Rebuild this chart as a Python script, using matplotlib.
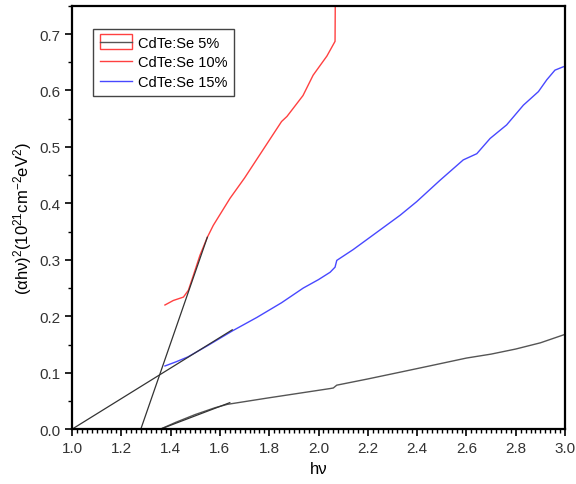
import matplotlib
matplotlib.use('Agg')
import matplotlib.pyplot as plt
from matplotlib.patches import Rectangle
from matplotlib.lines import Line2D
from matplotlib.ticker import MultipleLocator

plt.rcParams['font.family'] = ['Liberation Sans', 'DejaVu Sans']
plt.rcParams['mathtext.fontset'] = 'custom'
plt.rcParams['mathtext.rm'] = 'Liberation Sans'
plt.rcParams['mathtext.it'] = 'Liberation Sans:italic'

# CdTe:Se 5%
hv_5 = [1.358, 1.42, 1.50, 1.58, 1.63, 1.79, 2.047, 2.06, 2.074, 2.20, 2.331, 2.45, 2.60, 2.70, 2.80, 2.90, 3.0]
y_5 = [0.0, 0.012, 0.026, 0.038, 0.044, 0.055, 0.072, 0.073, 0.078, 0.089, 0.101, 0.112, 0.126, 0.133, 0.142, 0.153, 0.168]

# CdTe:Se 10%
hv_10 = [1.377, 1.411, 1.452, 1.472, 1.492, 1.519, 1.549, 1.573, 1.641, 1.70, 1.76, 1.82, 1.85, 1.872, 1.937, 1.978, 2.034, 2.067, 2.068]
y_10 = [0.220, 0.228, 0.234, 0.246, 0.272, 0.308, 0.340, 0.361, 0.409, 0.445, 0.485, 0.525, 0.545, 0.554, 0.591, 0.627, 0.661, 0.687, 0.76]

# CdTe:Se 15%
hv_15 = [1.377, 1.42, 1.47, 1.55, 1.65, 1.75, 1.85, 1.938, 2.0, 2.047, 2.067, 2.074, 2.14, 2.209, 2.331, 2.398, 2.493,
         2.587, 2.642, 2.696, 2.763, 2.831, 2.892, 2.926, 2.959, 2.993]
y_15 = [0.112, 0.119, 0.128, 0.148, 0.174, 0.198, 0.224, 0.250, 0.265, 0.278, 0.287, 0.299, 0.318, 0.340, 0.379, 0.403, 0.441,
        0.477, 0.488, 0.515, 0.539, 0.574, 0.598, 0.619, 0.636, 0.642]

# linear fits (Tauc extrapolation lines)
fit_5_x = [1.358, 1.64]
fit_5_y = [0.0, 0.047]
fit_10_x = [1.279, 1.549]
fit_10_y = [0.0, 0.340]
fit_15_x = [1.0, 1.65]
fit_15_y = [0.0, 0.176]

RED = '#ff4040'
BLUE = '#4848ff'
GREY = '#555555'


# Origin draws the first legend entry as a red box with the black line inside
class BoxLineHandler(object):
    def legend_artist(self, legend, orig_handle, fontsize, handlebox):
        x0, y0 = handlebox.xdescent, handlebox.ydescent
        w, h = handlebox.width, handlebox.height
        tr = handlebox.get_transform()
        rect = Rectangle((x0, y0 - 2), w, h + 4, facecolor='none', edgecolor=RED, lw=1.0, transform=tr)
        line = Line2D([x0, x0 + w], [y0 + h / 2.0] * 2, color=GREY, lw=1.0, transform=tr)
        handlebox.add_artist(rect)
        handlebox.add_artist(line)
        return rect


fig = plt.figure(figsize=(5.76, 4.85), dpi=100)
ax = fig.add_axes([0.125, 0.113, 0.856, 0.873])

l5, = ax.plot(hv_5, y_5, color=GREY, lw=1.0)
l10, = ax.plot(hv_10, y_10, color=RED, lw=1.0)
l15, = ax.plot(hv_15, y_15, color=BLUE, lw=1.0)

for fx, fy in [(fit_5_x, fit_5_y), (fit_10_x, fit_10_y), (fit_15_x, fit_15_y)]:
    ax.plot(fx, fy, color='#333333', lw=0.9)

ax.set_xlim(1.0, 3.0)
ax.set_ylim(0.0, 0.75)
ax.xaxis.set_major_locator(MultipleLocator(0.2))
ax.xaxis.set_minor_locator(MultipleLocator(0.02))
ax.yaxis.set_major_locator(MultipleLocator(0.1))
ax.yaxis.set_minor_locator(MultipleLocator(0.05))
ax.tick_params(which='both', direction='out', top=False, right=False, labelsize=11, labelcolor='#333333')
ax.tick_params(which='major', length=5, width=1.2)
ax.tick_params(which='minor', length=3, width=1.0)
for s in ax.spines.values():
    s.set_linewidth(1.6)

ax.set_xlabel('hν', fontsize=12)
ax.set_ylabel('(αhν)$^2$(10$^{21}$cm$^{-2}$eV$^2$)', fontsize=12)

leg = ax.legend([l5, l10, l15], ['CdTe:Se 5%', 'CdTe:Se 10%', 'CdTe:Se 15%'],
                handler_map={l5: BoxLineHandler()},
                loc='upper left', bbox_to_anchor=(0.043, 0.945), fontsize=10.5,
                fancybox=False, framealpha=1, edgecolor='#444444',
                handlelength=2.2, handleheight=0.7, borderpad=0.45, labelspacing=0.4,
                handletextpad=0.4, borderaxespad=0)
leg.get_frame().set_linewidth(1.0)

fig.savefig('out.png', dpi=100)
